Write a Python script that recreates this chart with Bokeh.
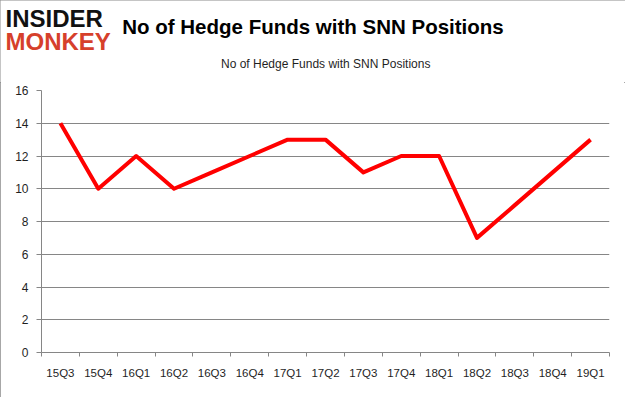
import numpy as np
from bokeh.plotting import figure
from bokeh.layouts import column
from bokeh.models import (Range1d, FixedTicker, Label, Legend, LegendItem, ColumnDataSource)
from bokeh.embed import file_html
from bokeh.resources import INLINE

quarters = ["15Q3", "15Q4", "16Q1", "16Q2", "16Q3", "16Q4", "17Q1", "17Q2",
            "17Q3", "17Q4", "18Q1", "18Q2", "18Q3", "18Q4", "19Q1"]
hedge_funds = [14, 10, 12, 10, 11, 12, 13, 13, 11, 12, 12, 7, 9, 11, 13]
y_ticks = [0, 2, 4, 6, 8, 10, 12, 14, 16]
series_name = "No of Hedge Funds with SNN Positions"
title_text = "No of Hedge Funds with SNN Positions"

n = len(quarters)
centers = list(np.arange(n) + 0.5)
bounds = list(np.arange(n + 1).astype(float))

GRID = "#868686"
TXT = "#1f1f1f"
FONT = "Liberation Sans"
RED = "#ff0000"
W = 625
TOP_H = 82
MAIN_H = 397 - TOP_H

# ---- header figure (logo, title, legend) ----
head = figure(width=W, height=TOP_H, output_backend="svg", toolbar_location=None,
              x_range=Range1d(0, 1), y_range=Range1d(0, 1),
              x_axis_type=None, y_axis_type=None,
              min_border_left=0, min_border_right=0, min_border_top=0, min_border_bottom=0)
head.frame_align = False
head.outline_line_color = None
head.xgrid.visible = False
head.ygrid.visible = False
head.background_fill_color = "white"
head.border_fill_color = "white"

head.add_layout(Label(x=312.5, y=55.7, x_units="screen", y_units="screen", text=title_text,
                      text_font=FONT, text_font_style="bold", text_font_size="20.5px",
                      text_color="#000000", text_align="center", text_baseline="alphabetic"))
head.add_layout(Label(x=5, y=64, x_units="screen", y_units="screen", text="INSIDER",
                      text_font=FONT, text_font_style="bold", text_font_size="24px",
                      text_color="#111111", text_align="left", text_baseline="alphabetic"))
head.add_layout(Label(x=5, y=41, x_units="screen", y_units="screen", text="MONKEY",
                      text_font=FONT, text_font_style="bold", text_font_size="24px",
                      text_color="#d6402b", text_align="left", text_baseline="alphabetic"))

legend_src = ColumnDataSource(dict(x=[], y=[]))
lr = head.line("x", "y", source=legend_src, line_color=RED, line_width=3)
legend = Legend(items=[LegendItem(label=series_name, renderers=[lr])],
                location=(195, 8.3), orientation="horizontal",
                glyph_width=24, glyph_height=20, label_height=20, label_standoff=2,
                padding=0, margin=0,
                border_line_color=None, background_fill_alpha=0,
                label_text_font=FONT, label_text_font_size="12px", label_text_color=TXT)
head.add_layout(legend)

# ---- main chart ----
p = figure(width=W, height=MAIN_H, output_backend="svg", toolbar_location=None,
           x_range=Range1d(0, n), y_range=Range1d(0, 16),
           min_border_left=41, min_border_right=16, min_border_top=8, min_border_bottom=45)
p.frame_align = False
p.outline_line_color = None
p.background_fill_color = "white"
p.border_fill_color = "white"

src = ColumnDataSource(dict(x=centers, y=hedge_funds))
p.line("x", "y", source=src, line_color=RED, line_width=4, line_join="round")

xa = p.xaxis[0]
xa.ticker = FixedTicker(ticks=centers, minor_ticks=bounds)
xa.major_label_overrides = {c: q for c, q in zip(centers, quarters)}
xa.major_tick_out = 0
xa.major_tick_in = 0
xa.minor_tick_out = 4
xa.minor_tick_in = 0
xa.minor_tick_line_color = GRID
xa.axis_line_color = GRID
xa.major_label_text_font = FONT
xa.major_label_text_font_size = "11.5px"
xa.major_label_text_color = TXT
xa.major_label_standoff = 10

ya = p.yaxis[0]
ya.ticker = FixedTicker(ticks=y_ticks)
ya.major_tick_out = 5
ya.major_tick_in = 0
ya.minor_tick_out = 0
ya.minor_tick_in = 0
ya.major_tick_line_color = GRID
ya.axis_line_color = GRID
ya.major_label_text_font = FONT
ya.major_label_text_font_size = "12px"
ya.major_label_text_color = TXT
ya.major_label_standoff = 8

p.xgrid.visible = False
p.ygrid.ticker = FixedTicker(ticks=y_ticks)
p.ygrid.grid_line_color = GRID
p.ygrid.grid_line_width = 1

layout = column(head, p, spacing=0,
                styles={"outline": "1px solid #8a8a8a", "outline-offset": "-1px"})

open("out.html", "w").write(file_html(layout, INLINE))
